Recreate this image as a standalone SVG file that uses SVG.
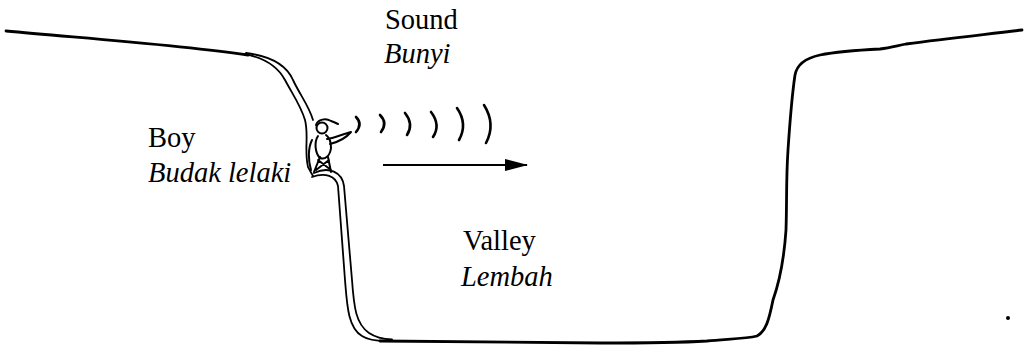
<svg xmlns="http://www.w3.org/2000/svg" width="1025" height="345" viewBox="0 0 1025 345">
  <style>
    .ground { fill: none; stroke: #000; stroke-linecap: round; stroke-linejoin: round; }
    .thick { stroke-width: 2.8; }
    .thin { stroke-width: 1.8; }
    .wave { fill: none; stroke: #000; stroke-width: 2.6; stroke-linecap: round; }
    .fig { fill: none; stroke: #000; stroke-width: 2; stroke-linecap: round; stroke-linejoin: round; }
    text { font-family: 'Liberation Serif', 'DejaVu Serif', 'Noto Serif', serif; font-size: 28.5px; fill: #000; }
    .it { font-style: italic; }
  </style>
  <defs>
    <marker id="arrowhead" markerWidth="24" markerHeight="14" refX="22" refY="7" orient="auto" markerUnits="userSpaceOnUse">
      <path d="M0,1 L23,7 L0,13 Z" fill="#000"/>
    </marker>
  </defs>

  <rect width="1025" height="345" fill="#fff"/>

  <!-- valley outline -->
  <g id="valley">
    <!-- left plateau -->
    <path class="ground thick" d="M6,31 C80,38 180,45 248,55"/>
    <!-- left slope, double edge -->
    <path class="ground thin" d="M244,54 C266,58 278,67 285,80 C293,95 301,106 305,120 C309,135 304,150 308,167 L313,176"/>
    <path class="ground thin" d="M246,53 C270,56 286,64 293,80 C300,95 309,106 313,120"/>
    <!-- ledge under the boy and left wall, double edge -->
    <path class="ground thin" d="M312,177 C325,172 336,176 338,186 L345,280 C347,305 348,328 362,336 C368,340 376,341 386,341"/>
    <path class="ground thin" d="M314,173 C329,166 342,172 344,186 L352,280 C354,308 356,324 369,333 C375,337 382,339 392,339.5"/>
    <!-- valley floor and right wall -->
    <path class="ground thick" d="M380,341 C460,342 540,343 600,343 C650,343 690,342 707,341 C725,339 745,339 757,336 C766,331 769,320 773,300 C779,283 784,260 786,230 C787,200 786,180 788,150 C790,120 792,95 795,75 C797,64 806,58 820,55 C840,51 860,50 880,49 C890,48 896,46 906,44 C950,38 990,34 1022,30"/>
  </g>

  <!-- the boy on the ledge -->
  <g id="boy">
    <circle class="fig" cx="322" cy="128" r="5.5"/>
    <path class="fig" d="M316,125 C318,119 326,118 331,121 C334,122 336,123 338,124"/>
    <path class="fig" d="M318,136 C314,142 315,153 320,158 C325,160 330,156 331,148 C331,142 329,137 326,135"/>
    <path class="fig" d="M327,139 C335,138 343,134 351,132 C346,138 338,142 330,144"/>
    <path class="fig" d="M320,157 L314,172 M328,157 L331,172 M318,160 L331,170 M329,160 L316,170"/>
    <path class="fig" d="M312,140 C308,148 308,160 311,170"/>
  </g>

  <!-- sound waves leaving the boy -->
  <g id="sound-waves">
    <path class="wave" d="M356,117 Q363,124 356,132"/>
    <path class="wave" d="M380,115 Q388,123 381,132"/>
    <path class="wave" d="M405,113 Q414,124 407,135"/>
    <path class="wave" d="M431,112 Q441,125 433,137"/>
    <path class="wave" d="M457,108 Q468,124 459,140"/>
    <path class="wave" d="M484,105 Q496,124 486,143"/>
  </g>

  <!-- direction of travel -->
  <g id="connectors">
    <line x1="383" y1="165" x2="527" y2="165" stroke="#000" stroke-width="2.2" marker-end="url(#arrowhead)"/>
  </g>

  <g id="label-sound">
    <text x="385" y="29">Sound</text>
    <text class="it" x="384" y="63">Bunyi</text>
  </g>
  <g id="label-boy">
    <text x="148" y="147">Boy</text>
    <text class="it" x="148" y="182">Budak lelaki</text>
  </g>
  <g id="label-valley">
    <text x="463" y="250">Valley</text>
    <text class="it" x="461" y="286">Lembah</text>
  </g>

  <circle cx="1008" cy="318" r="2" fill="#000"/>
</svg>
